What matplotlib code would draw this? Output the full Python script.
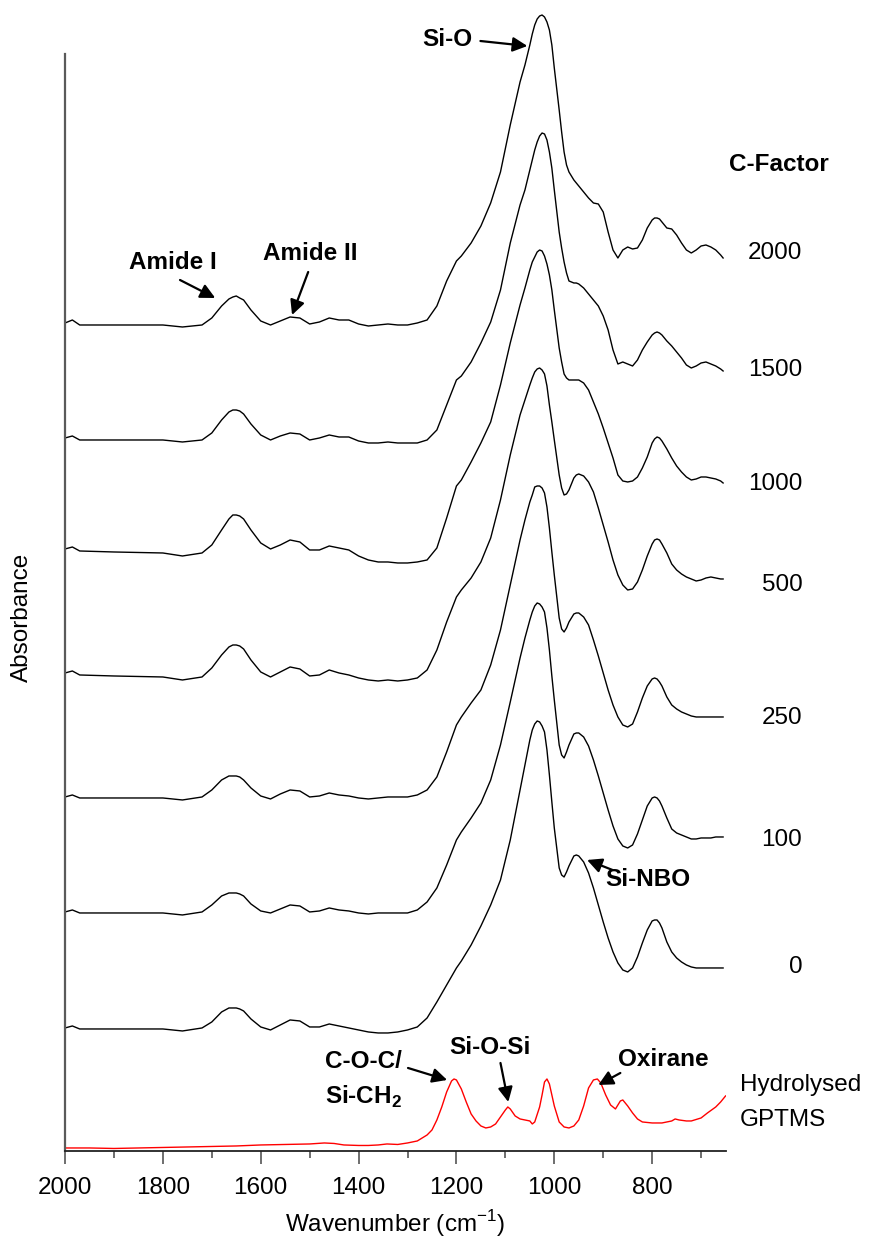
"""
FTIR spectra of the hybrid films for each C-factor, stacked, with the
hydrolysed GPTMS reference at the bottom.
"""
import matplotlib
matplotlib.use("Agg")
import matplotlib.pyplot as plt

plt.rcParams["font.family"] = ["Liberation Sans", "DejaVu Sans"]
plt.rcParams["mathtext.fontset"] = "custom"
plt.rcParams["mathtext.rm"] = "Liberation Sans"
plt.rcParams["mathtext.bf"] = "Liberation Sans:bold"

# wavenumber grid shared by the film spectra (cm-1)
wavenumber = [2000, 1985, 1970, 1900, 1800, 1760, 1720, 1700, 1680, 1665,
              1657, 1650, 1643, 1635, 1620, 1600, 1580, 1560, 1540, 1520,
              1500, 1480, 1460, 1440, 1420, 1400, 1380, 1360, 1340, 1320,
              1300, 1280, 1260, 1240, 1220, 1200, 1190, 1170, 1150, 1130,
              1110, 1090, 1070, 1060, 1050, 1045, 1040, 1035, 1030, 1025,
              1020, 1015, 1010, 1005, 1000, 990, 985, 980, 975, 970,
              960, 955, 950, 940, 930, 920, 910, 900, 890, 880,
              870, 860, 850, 840, 830, 820, 810, 800, 795, 790,
              785, 780, 770, 760, 750, 740, 730, 720, 710, 700,
              690, 680, 670, 660, 655]

# stacked absorbance (a.u. x 1000, offsets included)
abs_cf2000 = [828, 831, 826, 826, 826, 824, 826, 833, 845, 852,
              854, 855, 853, 851, 841, 830, 826, 830, 834, 833,
              827, 829, 833, 831, 831, 827, 825, 826, 827, 826,
              826, 828, 831, 845, 870, 890, 895, 908, 925, 948,
              979, 1026, 1069, 1086, 1106, 1117, 1126, 1132, 1135, 1136,
              1134, 1129, 1121, 1106, 1083, 1041, 1019, 999, 986, 979,
              971, 968, 965, 959, 953, 948, 947, 939, 919, 901,
              893, 901, 904, 902, 903, 911, 923, 931, 933, 933,
              932, 929, 923, 922, 916, 908, 901, 898, 901, 905,
              906, 904, 901, 896, 893]
abs_cf1500 = [713, 715, 711, 711, 711, 709, 711, 718, 731, 739,
              741, 741, 740, 737, 727, 716, 711, 715, 718, 717,
              711, 713, 716, 714, 714, 710, 708, 708, 709, 708,
              708, 708, 711, 721, 746, 771, 775, 789, 808, 829,
              861, 908, 946, 961, 981, 991, 1001, 1009, 1015, 1018,
              1017, 1011, 999, 983, 961, 919, 903, 889, 878, 870,
              868, 868, 867, 863, 857, 851, 845, 835, 821, 801,
              787, 789, 787, 785, 791, 801, 809, 816, 818, 819,
              818, 816, 810, 805, 799, 793, 786, 783, 785, 788,
              789, 787, 785, 782, 780]
abs_cf1000 = [602, 604, 600, 599, 598, 595, 598, 606, 621, 632,
              636, 636, 635, 632, 621, 608, 602, 606, 611, 609,
              601, 601, 605, 603, 601, 595, 591, 589, 589, 588,
              588, 589, 591, 603, 633, 665, 671, 689, 708, 729,
              766, 808, 846, 863, 881, 889, 894, 899, 901, 900,
              895, 887, 876, 861, 841, 803, 789, 777, 773, 771,
              771, 771, 771, 768, 761, 749, 737, 723, 708, 693,
              676, 670, 669, 670, 674, 683, 694, 708, 712, 714,
              713, 710, 702, 693, 685, 679, 674, 671, 672, 674,
              674, 673, 672, 670, 668]
abs_cf500 = [478, 480, 476, 475, 474, 471, 474, 483, 496, 504,
             506, 506, 505, 502, 491, 479, 474, 479, 484, 482,
             475, 476, 481, 478, 476, 473, 471, 470, 471, 470,
             471, 473, 481, 501, 529, 554, 561, 573, 589, 613,
             651, 696, 736, 751, 766, 773, 779, 782, 783, 781,
             777, 765, 746, 729, 711, 676, 663, 656, 657, 661,
             673, 676, 677, 675, 669, 659, 643, 626, 609, 591,
             576, 566, 561, 562, 569, 581, 595, 607, 611, 612,
             611, 607, 598, 587, 581, 577, 574, 572, 570, 571,
             573, 574, 573, 572, 572]
abs_cf250 = [354, 356, 353, 353, 353, 351, 354, 361, 371, 375,
             375, 375, 374, 371, 363, 355, 352, 357, 361, 360,
             354, 355, 358, 356, 355, 353, 352, 353, 354, 354,
             354, 356, 361, 374, 399, 426, 434, 448, 461, 486,
             521, 566, 611, 631, 649, 656, 664, 665, 665, 663,
             658, 644, 623, 599, 576, 533, 522, 519, 523, 529,
             537, 538, 538, 534, 526, 511, 495, 478, 461, 446,
             434, 426, 424, 427, 439, 453, 465, 472, 473, 472,
             469, 465, 454, 446, 442, 439, 437, 435, 434, 434,
             434, 434, 434, 434, 434]
abs_cf100 = [239, 241, 238, 238, 238, 236, 239, 246, 255, 258,
             258, 258, 257, 255, 247, 240, 238, 242, 246, 245,
             239, 240, 243, 241, 240, 238, 237, 238, 238, 238,
             238, 241, 249, 263, 286, 311, 319, 333, 348, 371,
             406, 449, 493, 513, 531, 539, 545, 548, 547, 544,
             539, 523, 501, 475, 451, 406, 396, 393, 399, 406,
             417, 418, 418, 414, 405, 391, 375, 358, 341, 325,
             312, 305, 303, 306, 317, 331, 345, 353, 354, 353,
             350, 345, 333, 322, 318, 316, 314, 312, 312, 313,
             313, 313, 314, 314, 314]
abs_cf0 = [123, 125, 122, 122, 122, 120, 123, 129, 139, 143,
           143, 143, 142, 140, 132, 124, 121, 126, 131, 130,
           124, 124, 127, 125, 123, 121, 119, 118, 118, 119,
           121, 124, 133, 149, 166, 183, 190, 206, 225, 246,
           271, 311, 361, 386, 411, 421, 427, 430, 429, 425,
           419, 401, 376, 349, 323, 283, 276, 274, 279, 285,
           295, 296, 295, 289, 278, 263, 246, 229, 213, 199,
           188, 181, 179, 183, 194, 208, 221, 230, 231, 231,
           228, 223, 209, 199, 193, 189, 186, 184, 183, 183,
           183, 183, 183, 183, 183]

spectra = [abs_cf2000, abs_cf1500, abs_cf1000, abs_cf500,
           abs_cf250, abs_cf100, abs_cf0]
c_factors = ["2000", "1500", "1000", "500", "250", "100", "0"]

# hydrolysed GPTMS reference
gptms_wn = [2000, 1950, 1900, 1850, 1800, 1750, 1700, 1650, 1600, 1550,
            1500, 1470, 1450, 1430, 1400, 1380, 1360, 1342, 1320, 1300,
            1280, 1260, 1250, 1240, 1230, 1220, 1210, 1205, 1200, 1190,
            1180, 1170, 1160, 1150, 1140, 1130, 1120, 1110, 1100, 1095,
            1090, 1080, 1070, 1060, 1050, 1045, 1040, 1030, 1025, 1020,
            1015, 1010, 1005, 1000, 990, 980, 970, 960, 950, 940,
            930, 920, 912, 905, 895, 885, 875, 865, 860, 850,
            840, 830, 820, 800, 780, 760, 753, 745, 730, 720,
            700, 687, 670, 660, 650]
gptms_abs = [3, 3, 2.5, 3, 3.5, 4, 4.5, 5, 6, 6.5,
             7, 8, 7.5, 6, 5.5, 5.5, 6, 7, 6.5, 8,
             10, 16, 21, 31, 44, 59, 70, 72, 71, 62,
             49, 37, 30, 25, 23, 24, 27, 34, 41, 44,
             42, 35, 32, 31, 30, 27, 29, 44, 56, 69,
             72, 67, 56, 45, 29, 24, 23, 25, 31, 45,
             63, 71, 72, 68, 56, 46, 42, 50, 51, 45,
             38, 32, 29, 28, 28, 30, 32, 31, 30, 30,
             33, 38, 44, 49, 55]

# C-factor label heights at the right-hand end of each trace
label_abs = [898, 781, 667, 566, 433, 311, 184]

fig = plt.figure(figsize=(8.74, 12.38), dpi=100)
ax = fig.add_axes([0.0744, 0.0703, 0.7563, 0.9297])

for spec in spectra:
    ax.plot(wavenumber, spec, color="black", lw=1.0,
            solid_joinstyle="round")
ax.plot(gptms_wn, gptms_abs, color="red", lw=1.0, solid_joinstyle="round")

ax.set_xlim(2000, 649)
ax.set_ylim(0, 1151)

for side in ("top", "right"):
    ax.spines[side].set_visible(False)
ax.spines["left"].set_linewidth(1.6)
ax.spines["left"].set_color("#5a5a5a")
ax.spines["left"].set_bounds(0, 1097)
ax.spines["bottom"].set_linewidth(1.3)
ax.spines["bottom"].set_color("#222222")

ax.set_xticks([2000, 1800, 1600, 1400, 1200, 1000, 800])
ax.set_xticks(range(1900, 649, -200), minor=True)
ax.set_yticks([])
ax.tick_params(axis="x", which="major", direction="out", length=9,
               width=1.2, labelsize=17.5, pad=9.5, color="#555555")
ax.tick_params(axis="x", which="minor", direction="out", length=5,
               width=1.2, color="#555555")

ax.set_xlabel("Wavenumber (cm$^{-1}$)", fontsize=17.5, labelpad=7)
fig.text(22 / 874, 1 - 617 / 1238, "Absorbance", rotation=90,
         ha="center", va="center", fontsize=17.5)

# C-factor labels
ax.text(542, 986, "C-Factor", ha="center", va="center",
        fontsize=17.5, fontweight="bold")
for lab, y in zip(c_factors, label_abs):
    ax.text(493, y, lab, ha="right", va="center", fontsize=17.5)
ax.text(620, 66, "Hydrolysed", ha="left", va="center", fontsize=17.5)
ax.text(620, 31, "GPTMS", ha="left", va="center", fontsize=17.5)

arrow = dict(arrowstyle="-|>", color="black", lw=1.6,
             mutation_scale=22, shrinkA=0, shrinkB=0)
bold = dict(fontsize=17.5, fontweight="bold")

ax.text(1219, 1111, "Si-O", ha="center", va="center", **bold)
ax.annotate("", xy=(1055, 1105), xytext=(1151, 1110), arrowprops=arrow)

ax.text(1779, 888, "Amide I", ha="center", va="center", **bold)
ax.annotate("", xy=(1693, 853), xytext=(1765, 871), arrowprops=arrow)

ax.text(1499, 897, "Amide II", ha="center", va="center", **bold)
ax.annotate("", xy=(1536, 836), xytext=(1503, 879), arrowprops=arrow)

ax.text(808, 271, "Si-NBO", ha="center", va="center", **bold)
ax.annotate("", xy=(933, 291), xytext=(881, 281), arrowprops=arrow)

ax.text(1468, 89, "C-O-C/", ha="left", va="center", **bold)
ax.text(1468, 54, r"Si-CH$_\mathbf{2}$", ha="left", va="center", **bold)
ax.annotate("", xy=(1219, 71), xytext=(1299, 83), arrowprops=arrow)

ax.text(1131, 103, "Si-O-Si", ha="center", va="center", **bold)
ax.annotate("", xy=(1094, 49), xytext=(1110, 88), arrowprops=arrow)

ax.text(777, 91, "Oxirane", ha="center", va="center", **bold)
ax.annotate("", xy=(910, 66), xytext=(865, 78), arrowprops=arrow)

fig.savefig("out.png", dpi=100)
